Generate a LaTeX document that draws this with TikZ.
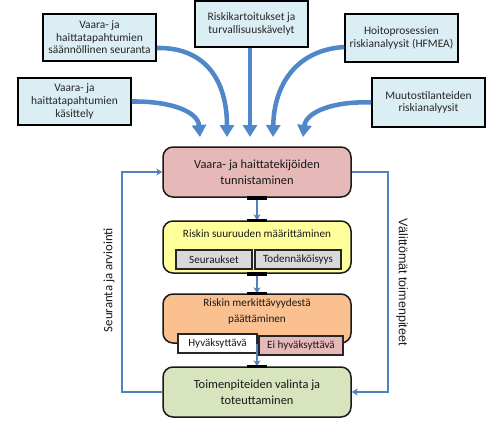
\documentclass[tikz,border=0pt]{standalone}
\usepackage{fontspec}
\setmainfont{Carlito}
\newfontfamily\arialf{Liberation Sans}
\usetikzlibrary{arrows.meta}
\newdimen\pxu \pxu=0.75pt
\definecolor{topfill}{HTML}{DBEEF4}
\definecolor{pinkf}{HTML}{E6B9B8}
\definecolor{yellowf}{HTML}{FFFF9C}
\definecolor{orangef}{HTML}{FAC090}
\definecolor{greenf}{HTML}{D7E4BD}
\definecolor{grayf}{HTML}{D9D9D9}
\definecolor{lineblue}{HTML}{4F81BD}
\definecolor{bigblue}{HTML}{5087C8}
\tikzset{
  topbox/.style={draw=black, line width=1.5\pxu, fill=topfill, minimum width=113\pxu, inner sep=0pt, align=center,
    font=\fontsize{8.6}{9.4}\selectfont, text=black!85},
  mainbox/.style={draw=black!90, line width=1.5\pxu, rounded corners=10\pxu, minimum width=188\pxu, inner sep=0pt, align=center,
    font=\fontsize{9.3}{12}\selectfont, text=black!90},
  subbox/.style={draw=black!85, line width=1.2\pxu, minimum height=19\pxu, inner sep=0pt, align=center,
    font=\fontsize{8.3}{9}\selectfont, text=black!90},
  subtitle/.style={align=center, inner sep=0pt, font=\fontsize{8.4}{12}\selectfont, text=black!90},
  bigarrow/.style={draw=bigblue, line width=3.4pt, -{Triangle[width=10.5pt,length=9pt]}},
  fb/.style={draw=lineblue, line width=1.5pt},
  fbarrow/.style={fb, -{Stealth[width=5.25pt,length=4.5pt]}},
  jbar/.style={fill=black, minimum width=20\pxu, minimum height=3.5\pxu, inner sep=0pt},
  sidelabel/.style={inner sep=0pt, font=\fontsize{9.6}{12}\selectfont, text=black!90}
}
\begin{document}
\begin{tikzpicture}[x=0.75pt, y=-0.75pt]
\useasboundingbox (0,0) rectangle (500,421);
% top source boxes
\node[topbox, minimum height=47\pxu] (tb1) at (99.5,37.5) {Vaara- ja\\haittatapahtumien\\säännöllinen seuranta};
\node[topbox, minimum height=47\pxu] (tb2) at (74.5,101.5) {Vaara- ja\\haittatapahtumien\\käsittely};
\node[topbox, minimum height=46\pxu] (tb3) at (251.5,24) {Riskikartoitukset ja\\turvallisuuskävelyt};
\node[topbox, minimum height=48\pxu] (tb4) at (401.5,38) {Hoitoprosessien\\riskianalyysit (HFMEA)};
\node[topbox, minimum height=49\pxu] (tb5) at (428.5,102.5) {Muutostilanteiden\\riskianalyysit};
% arrow tips
\coordinate (t1) at (200,137);
\coordinate (t2) at (227,137);
\coordinate (t3) at (250,137);
\coordinate (t4) at (273,137);
\coordinate (t5) at (303,137);
% big arrows
\draw[bigarrow] (tb2.east) .. controls (172,101) and (198,112) .. (t1);
\draw[bigarrow] ([yshift=-10.5\pxu]tb1.east) .. controls (205,47) and (227,80) .. (t2);
\draw[bigarrow] (tb3.south -| t3) -- (t3);
\draw[bigarrow] ([yshift=-9\pxu]tb4.west) .. controls (296,50) and (274,85) .. (t4);
\draw[bigarrow] (tb5.west) .. controls (333,101) and (306,112) .. (t5);
% main boxes
\node[mainbox, fill=pinkf, minimum height=50\pxu] (pink) at (257,172) {Vaara- ja haittatekijöiden\\tunnistaminen};
\node[mainbox, fill=yellowf, minimum height=52\pxu] (yellow) at (257,247) {};
\node[subtitle] (ytitle) at (257,234) {Riskin suuruuden määrittäminen};
\node[subbox, fill=grayf, minimum width=76\pxu] (seur) at (214,259.5) {Seuraukset};
\node[subbox, fill=grayf, minimum width=86\pxu] (tod) at (298,259.5) {Todennäköisyys};
\node[mainbox, fill=orangef, minimum height=49\pxu] (orange) at (257,318.5) {};
\node[subtitle] (otitle) at (257,312) {Riskin merkittävyydestä\\päättäminen};
\node[subbox, fill=white, minimum width=79\pxu] (hyv) at (217.5,343.5) {Hyväksyttävä};
\node[subbox, fill=pinkf, minimum width=84\pxu] (ei) at (301,345.5) {Ei hyväksyttävä};
\node[mainbox, fill=greenf, minimum height=50\pxu] (green) at (257,392) {Toimenpiteiden valinta ja\\toteuttaminen};
% vertical connectors
\draw[fbarrow] (pink.south) -- (yellow.north);
\draw[fbarrow] (yellow.south) -- (orange.north);
\draw[fbarrow] (orange.south) -- (green.north);
% junction bars
\node[jbar] (b1) at (pink.south) {};
\node[jbar] (b2) at (yellow.north) {};
\node[jbar] (b3) at (yellow.south) {};
\node[jbar] (b4) at (orange.north) {};
\node[jbar] (b5) at (green.north) {};
% feedback loops
\coordinate (lc) at (122,392);
\coordinate (rc) at (388,172);
\draw[fbarrow] (green.west) -- (lc) |- (pink.west);
\draw[fbarrow] (pink.east) -- (rc) |- (green.east);
\node[sidelabel, rotate=90] (sl) at (109,280) {Seuranta ja arviointi};
\node[sidelabel, rotate=-90, font=\arialf\fontsize{9.4}{12}\selectfont] (sr) at (402,282) {Välittömät toimenpiteet};
\end{tikzpicture}
\end{document}
